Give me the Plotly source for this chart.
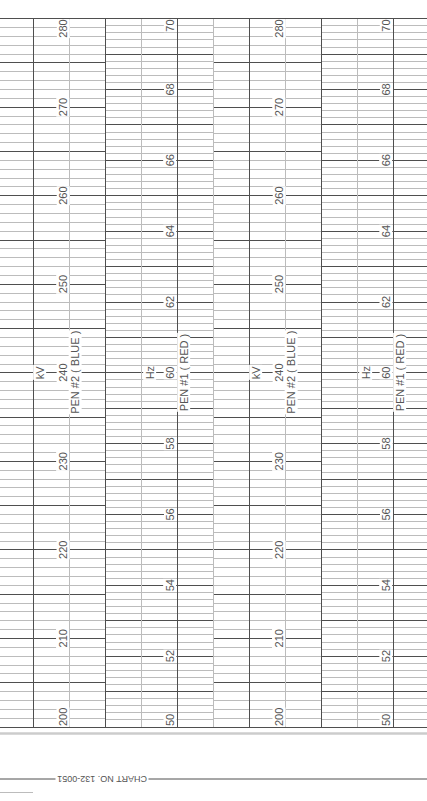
import plotly.graph_objects as go

# recorder chart scales
kv_range = [200, 280]
kv_labels = [200, 210, 220, 230, 240, 250, 260, 270, 280]
kv_major, kv_minor = 5, 1

hz_range = [50, 70]
hz_labels = [50, 52, 54, 56, 58, 60, 62, 64, 66, 68, 70]
hz_major, hz_minor = 1, 0.2

# time divisions across the strip (dark every 2nd, light in between)
time_divs = [0, 1, 2, 3, 4, 5, 6, 7, 8, 9, 10]

panels = [
    # (scale, unit, pen text, x-domain in px, label x, unit x, pen x)
    ("kv", "kV", "PEN #2 ( BLUE )", (0, 105), 63, 39.5, 75),
    ("hz", "Hz", "PEN #1 ( RED )", (105, 213.5), 170, 149.5, 183.5),
    ("kv", "kV", "PEN #2 ( BLUE )", (213.5, 321), 279, 255.5, 291),
    ("hz", "Hz", "PEN #1 ( RED )", (321, 427), 386, 365.5, 399.5),
]

W, H = 427, 801
TOP, BOT = 18.7, 727
ydom = [1 - BOT / H, 1 - TOP / H]

DARK = "#4f4f4f"
LIGHT = "#bcbcbc"
TXT = "#555555"
FONT = "Liberation Sans"

fig = go.Figure()
layout = {}
annotations = []

for i, (scale, unit, pen, (x0, x1), lx, ux, px) in enumerate(panels, start=1):
    if scale == "kv":
        rng, labels, major, minor = kv_range, kv_labels, kv_major, kv_minor
        mid = 240
    else:
        rng, labels, major, minor = hz_range, hz_labels, hz_major, hz_minor
        mid = 60
    sfx = "" if i == 1 else str(i)
    fig.add_trace(go.Scatter(x=[0.5] * len(labels), y=labels, mode="none",
                             xaxis="x" + sfx, yaxis="y" + sfx,
                             hoverinfo="skip", showlegend=False))
    layout["xaxis" + sfx] = dict(domain=[x0 / W, x1 / W], range=[0, 1],
                                 anchor="y" + sfx, showgrid=False, zeroline=False,
                                 showticklabels=False, ticks="",
                                 showline=True, mirror=True, linecolor=DARK,
                                 linewidth=1, fixedrange=True)
    layout["yaxis" + sfx] = dict(domain=ydom, range=rng, anchor="x" + sfx,
                                 tick0=rng[0], dtick=major, showgrid=True,
                                 gridcolor=DARK, gridwidth=1,
                                 minor=dict(tick0=rng[0], dtick=minor, showgrid=True,
                                            gridcolor=LIGHT, gridwidth=1, ticks=""),
                                 zeroline=False, showticklabels=False, ticks="",
                                 showline=False, fixedrange=True)
    for v in labels:
        if v == rng[1]:
            ya = "top"
        elif v == rng[0]:
            ya = "bottom"
        else:
            ya = "middle"
        annotations.append(dict(xref="paper", yref="y" + sfx, x=lx / W, y=v,
                                text=str(v), textangle=-90, showarrow=False,
                                xanchor="center", yanchor=ya, bgcolor="white",
                                borderpad=0, font=dict(family=FONT, size=11, color=TXT)))
    annotations.append(dict(xref="paper", yref="y" + sfx, x=ux / W, y=mid,
                            text=unit, textangle=-90, showarrow=False,
                            xanchor="center", yanchor="middle", bgcolor="white",
                            borderpad=0, font=dict(family=FONT, size=11, color=TXT)))
    annotations.append(dict(xref="paper", yref="y" + sfx, x=px / W, y=mid,
                            text=pen, textangle=-90, showarrow=False,
                            xanchor="center", yanchor="middle", bgcolor="white",
                            borderpad=0, font=dict(family=FONT, size=11, color=TXT)))

# time grid over the whole strip
fig.add_trace(go.Scatter(x=time_divs, y=[0] * len(time_divs), mode="none",
                         xaxis="x5", yaxis="y5", hoverinfo="skip", showlegend=False))
layout["xaxis5"] = dict(domain=[0, 1], range=[-33 / 36, 394 / 36], anchor="y5",
                        tick0=0, dtick=2, showgrid=True, gridcolor=DARK, gridwidth=1,
                        minor=dict(tick0=0, dtick=1, showgrid=True, gridcolor=LIGHT,
                                   gridwidth=1, ticks=""),
                        zeroline=False, showticklabels=False, ticks="",
                        showline=False, fixedrange=True)
layout["yaxis5"] = dict(domain=ydom, range=[0, 1], anchor="x5", showgrid=False,
                        zeroline=False, showticklabels=False, ticks="",
                        showline=False, fixedrange=True)

# footer: chart number printed upside down
annotations.append(dict(xref="paper", yref="paper", x=102.5 / W, y=1 - 779 / H,
                        text="CHART NO. 132-0051", textangle=180, showarrow=False,
                        xanchor="center", yanchor="middle", bgcolor="white",
                        borderpad=1, font=dict(family=FONT, size=9, color=TXT)))

shapes = [
    dict(type="line", xref="paper", yref="paper", x0=0, x1=1,
         y0=1 - 733.5 / H, y1=1 - 733.5 / H, line=dict(color="#cccccc", width=2.5)),
    dict(type="line", xref="paper", yref="paper", x0=0, x1=1,
         y0=1 - 779 / H, y1=1 - 779 / H, line=dict(color=DARK, width=1), layer="below"),
    dict(type="line", xref="paper", yref="paper", x0=0, x1=33 / W,
         y0=1 - 792.5 / H, y1=1 - 792.5 / H, line=dict(color=LIGHT, width=1)),
]

fig.update_layout(
    width=W, height=H,
    margin=dict(l=0, r=0, t=0, b=0),
    paper_bgcolor="white",
    plot_bgcolor="rgba(0,0,0,0)",
    showlegend=False,
    annotations=annotations,
    shapes=shapes,
    **layout,
)

fig.write_html("out.html", config={"displayModeBar": False, "staticPlot": True},
               post_script="document.body.style.margin='0';")
